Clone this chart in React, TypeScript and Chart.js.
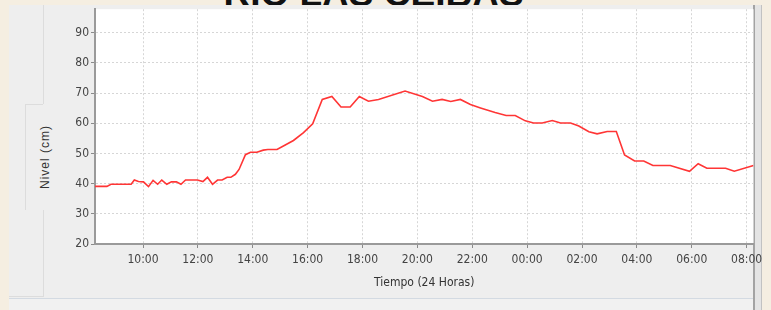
import React, { useEffect, useRef } from "react";
import { Chart, registerables } from "chart.js";

Chart.register(...registerables);

const chartTitle = "RIO LAS CEIBAS";
const axisTitleX = "Tiempo (24 Horas)";
const axisTitleY = "Nivel (cm)";

const times = [
  "08:15", "08:41", "08:50", "09:34", "09:41", "09:50", "10:01", "10:12", "10:22", "10:32",
  "10:41", "10:52", "11:02", "11:13", "11:23", "11:33", "11:59", "12:11", "12:21", "12:32",
  "12:43", "12:53", "13:04", "13:12", "13:22", "13:30", "13:44", "13:55", "14:09", "14:23",
  "14:33", "14:53", "15:10", "15:29", "15:51", "16:11", "16:32", "16:53", "17:13", "17:33",
  "17:53", "18:13", "18:35", "19:33", "20:11", "20:33", "20:54", "21:13", "21:34", "21:56",
  "22:18", "22:50", "23:14", "23:34", "23:56", "00:14", "00:33", "00:55", "01:13", "01:35",
  "01:53", "02:15", "02:33", "02:55", "03:15", "03:33", "03:55", "04:15", "04:35", "05:13",
  "05:55", "06:14", "06:33", "07:14", "07:33", "08:15",
];

const levels = [
  39.1, 39.1, 39.8, 39.8, 41.2, 40.7, 40.6, 39.0, 41.1, 39.8,
  41.2, 39.8, 40.6, 40.6, 39.8, 41.2, 41.2, 40.7, 42.1, 39.8,
  41.2, 41.2, 42.1, 42.1, 43.1, 44.7, 49.6, 50.4, 50.4, 51.1,
  51.3, 51.3, 52.7, 54.3, 56.9, 59.8, 67.9, 68.9, 65.4, 65.4,
  68.9, 67.3, 67.9, 70.7, 68.9, 67.3, 67.9, 67.2, 67.9, 66.2,
  65.1, 63.6, 62.6, 62.6, 60.8, 60.1, 60.1, 60.9, 60.1, 60.1,
  59.1, 57.2, 56.5, 57.3, 57.3, 49.5, 47.5, 47.5, 46.0, 46.0,
  44.1, 46.6, 45.1, 45.1, 44.1, 46.0,
];

const xTickLabels = ["10:00", "12:00", "14:00", "16:00", "18:00", "20:00", "22:00", "00:00", "02:00", "04:00", "06:00", "08:00"];
const yTickValues = [20, 30, 40, 50, 60, 70, 80, 90];
const xRange = ["08:15", "08:15"];
const yRange = [20, 97.8];

function toHours(list: string[], start: number): number[] {
  let offset = 0;
  let prev = -Infinity;
  return list.map((t) => {
    const [h, m] = t.split(":").map(Number);
    let v = h + m / 60 + offset;
    while (v < start - 1e-9 || v < prev - 1e-9) {
      offset += 24;
      v += 24;
    }
    prev = v;
    return v;
  });
}

function fmt(v: number): string {
  const h = Math.round(v) % 24;
  return (h < 10 ? "0" : "") + h + ":00";
}

const tickFont = { family: "'Liberation Sans Narrow', 'DejaVu Sans Condensed', Arial, sans-serif", size: 12 };

export default function App() {
  const ref = useRef<HTMLCanvasElement | null>(null);

  useEffect(() => {
    const start = toHours([xRange[0]], 0)[0];
    const xs = toHours(times, start);
    const xTicks = toHours(xTickLabels, start);
    const xMax = start + 24;

    const bgPlugin = {
      id: "plotBg",
      beforeDraw(chart: any) {
        const { ctx, chartArea } = chart;
        ctx.save();
        ctx.fillStyle = "#ffffff";
        ctx.fillRect(chartArea.left, chartArea.top, chartArea.right - chartArea.left, chartArea.bottom - chartArea.top);
        ctx.restore();
      },
    };

    const chart = new Chart(ref.current as HTMLCanvasElement, {
      type: "line",
      data: {
        datasets: [
          {
            data: xs.map((x, i) => ({ x, y: levels[i] })),
            borderColor: "#ff3535",
            borderWidth: 1.6,
            pointRadius: 0,
            tension: 0,
            fill: false,
          },
        ],
      },
      options: {
        animation: false,
        responsive: false,
        maintainAspectRatio: false,
        layout: { padding: { top: 6, right: 17.5, bottom: 0, left: 0 } },
        plugins: { legend: { display: false }, tooltip: { enabled: false } },
        scales: {
          x: {
            type: "linear",
            min: start,
            max: xMax,
            afterBuildTicks: (s: any) => {
              s.ticks = xTicks.map((v) => ({ value: v }));
            },
            afterFit: (s: any) => {
              s.height = 66;
            },
            ticks: {
              callback: (v: any) => fmt(Number(v)),
              color: "#444444",
              font: tickFont,
              padding: 5,
              maxRotation: 0,
              autoSkip: false,
            },
            grid: {
              color: "#d6d6d6",
              lineWidth: 1,
              tickLength: 4,
              tickColor: "#8a8a8a",
              tickWidth: 1,
            },
            border: { display: true, color: "#9a9a9a", width: 2, dash: [2, 2] },
            title: {
              display: true,
              text: axisTitleX,
              color: "#333333",
              font: { family: "'Liberation Sans Narrow', 'DejaVu Sans Condensed', Arial, sans-serif", size: 12 },
              padding: { top: 0, bottom: 20 },
            },
          },
          y: {
            type: "linear",
            min: yRange[0],
            max: yRange[1],
            afterBuildTicks: (s: any) => {
              s.ticks = yTickValues.map((v) => ({ value: v }));
            },
            afterFit: (s: any) => {
              s.width = 95;
            },
            ticks: {
              color: "#444444",
              font: tickFont,
              padding: 2,
            },
            grid: {
              color: "#d6d6d6",
              lineWidth: 1,
              tickLength: 4,
              tickColor: "#8a8a8a",
              tickWidth: 1,
            },
            border: { display: true, color: "#9a9a9a", width: 2, dash: [2, 2] },
          },
        },
      },
      plugins: [bgPlugin],
    } as any);

    return () => chart.destroy();
  }, []);

  const line = (style: React.CSSProperties) => <div style={{ position: "absolute", background: "#dcdcdc", ...style }} />;

  return (
    <div style={{ position: "fixed", left: 0, top: 0, width: 771, height: 310, overflow: "hidden", background: "#f5eee1" }}>
      <div
        style={{
          position: "absolute",
          left: 0,
          top: -25,
          width: 747,
          textAlign: "center",
          fontFamily: "'Liberation Sans', Arial, sans-serif",
          fontWeight: "bold",
          fontSize: 37,
          lineHeight: "37px",
          color: "#111111",
          whiteSpace: "nowrap",
        }}
      >
        {chartTitle}
      </div>
      <div style={{ position: "absolute", left: 9, top: 5, width: 746, height: 305, background: "#eeeeee" }} />
      {line({ left: 43, top: 5, width: 1, height: 99 })}
      {line({ left: 25, top: 104, width: 18, height: 1 })}
      {line({ left: 25, top: 104, width: 1, height: 106 })}
      {line({ left: 43, top: 210, width: 1, height: 87 })}
      {line({ left: 9, top: 296, width: 34, height: 1 })}
      <div style={{ position: "absolute", left: 9, top: 298, width: 746, height: 1, background: "#d3dae2" }} />
      <div style={{ position: "absolute", left: 9, top: 299, width: 746, height: 11, background: "#f1f1f1" }} />
      <div style={{ position: "absolute", left: 753, top: 5, width: 2, height: 305, background: "#a3a3a3" }} />
      <div style={{ position: "absolute", left: 755, top: 5, width: 6, height: 305, background: "#e4e4e4" }} />
      <div style={{ position: "absolute", left: 761, top: 5, width: 1, height: 305, background: "#c2c2c2" }} />
      <div
        style={{
          position: "absolute",
          left: 45,
          top: 157,
          transform: "translate(-50%, -50%) rotate(-90deg)",
          fontFamily: "Arial, 'Liberation Sans', sans-serif",
          fontSize: 12,
          letterSpacing: 1,
          color: "#333333",
          whiteSpace: "nowrap",
        }}
      >
        {axisTitleY}
      </div>
      <canvas ref={ref} width={771} height={310} style={{ position: "absolute", left: 0, top: 0, width: 771, height: 310 }} />
    </div>
  );
}
